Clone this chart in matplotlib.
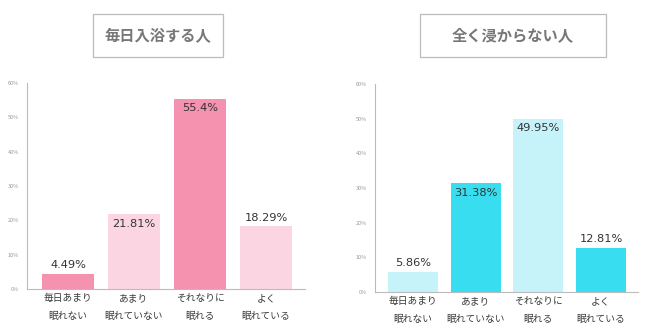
import matplotlib.pyplot as plt
from matplotlib.patches import Rectangle

plt.rcParams['font.family'] = ['Noto Sans CJK JP', 'DejaVu Sans']

categories = ['毎日あまり\n眠れない', 'あまり\n眠れていない', 'それなりに\n眠れる', 'よく\n眠れている']
titles = ['毎日入浴する人', '全く浸からない人']
bath_daily = [4.49, 21.81, 55.4, 18.29]
bath_never = [5.86, 31.38, 49.95, 12.81]
labels_daily = ['4.49%', '21.81%', '55.4%', '18.29%']
labels_never = ['5.86%', '31.38%', '49.95%', '12.81%']
yticks = [0, 10, 20, 30, 40, 50, 60]

pink = ['#F492B0', '#FBD6E2', '#F492B0', '#FBD6E2']
cyan = ['#C6F2FA', '#38DDEF', '#C6F2FA', '#38DDEF']
# which labels sit inside the bar top
inside = [[False, True, True, False], [False, True, True, False]]

W, H = 650, 333
fig = plt.figure(figsize=(6.5, 3.33), dpi=100)

def px_axes(x0, x1, y_top, y_bot):
    return fig.add_axes([x0 / W, (H - y_bot) / H, (x1 - x0) / W, (y_bot - y_top) / H])

panels = [
    dict(vals=bath_daily, labs=labels_daily, cols=pink, ins=inside[0],
         ax=(27, 305, 83, 289), off=0.62, right=3.59, w=0.79,
         box=(93, 223, 14, 57)),
    dict(vals=bath_never, labs=labels_never, cols=cyan, ins=inside[1],
         ax=(375, 638, 84, 292), off=0.606, right=3.59, w=0.8,
         box=(420, 606, 14, 57)),
]

for i, p in enumerate(panels):
    ax = px_axes(*p['ax'])
    xs = range(len(categories))
    ax.bar(xs, p['vals'], width=p['w'], color=p['cols'])
    for x, v, lab, ins in zip(xs, p['vals'], p['labs'], p['ins']):
        if ins:
            ax.text(x, v - 1.3, lab, ha='center', va='top', fontsize=8.2, color='#333333',
                    family='DejaVu Sans')
        else:
            ax.text(x, v + 1.0, lab, ha='center', va='bottom', fontsize=8.2, color='#333333',
                    family='DejaVu Sans')
    ax.set_xlim(-p['off'], p['right'])
    ax.set_ylim(0, 60)
    ax.set_yticks(yticks)
    ax.set_yticklabels([f'{t}%' for t in yticks], fontsize=4, color='#999999')
    ax.set_xticks(list(xs))
    ax.set_xticklabels(categories, fontsize=7, color='#3A3A3A', linespacing=2.0)
    ax.tick_params(axis='both', length=0, pad=3)
    ax.tick_params(axis='y', pad=6)
    for s in ['top', 'right']:
        ax.spines[s].set_visible(False)
    for s in ['left', 'bottom']:
        ax.spines[s].set_color('#BBBBBB')
        ax.spines[s].set_linewidth(0.8)

    bx0, bx1, by0, by1 = p['box']
    fig.patches.append(Rectangle((bx0 / W, (H - by1) / H), (bx1 - bx0) / W, (by1 - by0) / H,
                                 transform=fig.transFigure, fill=False,
                                 edgecolor='#BBBBBB', linewidth=0.9))
    fig.text((bx0 + bx1) / 2 / W, (H - (by0 + by1) / 2) / H, titles[i], ha='center',
             va='center', fontsize=11, fontweight='bold', color='#777777')

fig.savefig('out.png', dpi=100, facecolor='white')
